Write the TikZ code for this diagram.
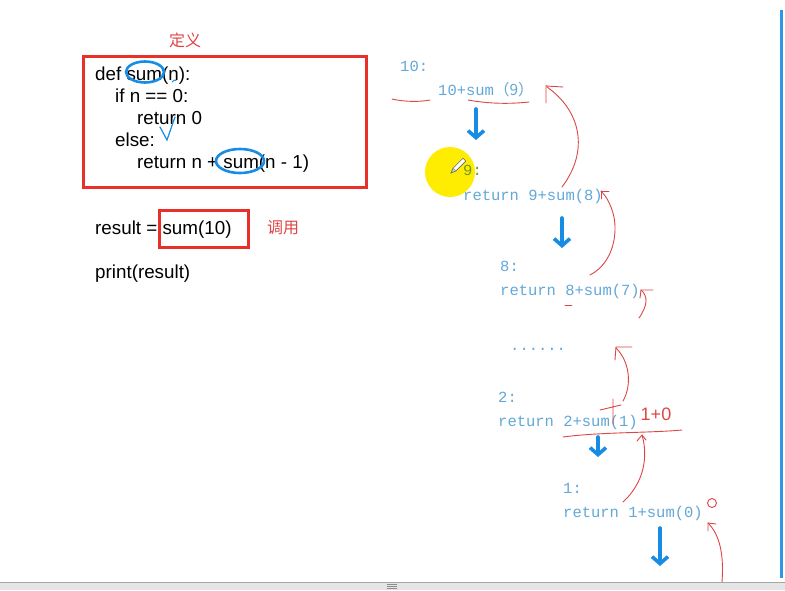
\documentclass[tikz,border=0pt]{standalone}
\usepackage{fontspec}
\setmainfont{Liberation Sans}
\newfontfamily\monofont{Liberation Mono}
\newfontfamily\cjk{Noto Sans CJK SC}
\usetikzlibrary{arrows.meta}
\definecolor{penred}{RGB}{222,70,70}
\definecolor{boxred}{RGB}{232,48,40}
\definecolor{penblue}{RGB}{22,140,228}
\definecolor{traceblue}{RGB}{98,168,216}
\definecolor{nineolive}{RGB}{118,150,30}
\tikzset{
  code/.style={anchor=base west, inner sep=0, font=\fontsize{18.8}{22}\selectfont},
  trace/.style={anchor=base west, inner sep=0, text=traceblue, font=\monofont\fontsize{15.5}{18}\selectfont},
  cnnote/.style={inner sep=0, text=penred, font=\cjk\fontsize{16}{18}\selectfont},
  pen/.style={penred, line width=0.9pt, line cap=round, line join=round},
  bluepen/.style={penblue, line width=2.6pt, line cap=round},
  downarrow/.style={penblue, line width=3.6pt, line cap=round, -{Straight Barb[length=7pt,width=16pt,line width=3.6pt]}}
}
\begin{document}
\begin{tikzpicture}[x=1pt,y=-1pt]
\useasboundingbox (0,0) rectangle (785,590);
\fill[white] (0,0) rectangle (785,590);
% window edges
\fill[penblue!90] (779.5,10) rectangle (783,578);
\fill[black!10] (0,582) rectangle (785,590);
\draw[black!35] (0,582) -- (785,582);
\draw[black!45, line width=0.6pt] (387,584.5) -- (397,584.5) (387,586.5) -- (397,586.5) (387,588.5) -- (397,588.5);

% code on the left
\node[cnnote] (defnote) at (185,40) {定义};
\node[code] (defline) at (95,80) {def sum(n):};
\node[code] (ifline) at (115,102) {if n == 0:};
\node[code] (ret0) at (137,124) {return 0};
\node[code] (elseline) at (115,146) {else:};
\node[code] (recline) at (137,168) {return n + sum(n - 1)};
\draw[boxred, line width=3pt] (83,56) rectangle (366,187);
\draw[bluepen] (145,72) ellipse (19 and 10.5);
\draw[bluepen] (240,161) ellipse (24 and 12);
\draw[penblue, line width=1.2pt, line cap=round] (160,127) -- (167,140) -- (175,117);
\draw[penblue, line width=1pt] (172,82) arc (200:300:3);

\node[code] (resline) at (95,234) {result = sum(10)};
\draw[boxred, line width=3pt] (159,210) rectangle (248,247);
\node[cnnote] (callnote) at (283,228) {调用};
\node[code] (printline) at (95,278) {print(result)};

% trace of the calls
\node[trace] (lbl10) at (400,71) {10:};
\node[trace] (call10) at (438,95) {10+sum{\cjk （9）}};
\fill[yellow!95!orange] (450,172) circle (25);
\node[trace, text=nineolive] (lbl9) at (463,175) {9:};
\begin{scope}[shift={(458,166)}, rotate=-45]
  \draw[black!60, fill=white, line width=0.6pt] (-2,-9) rectangle (2,5);
  \draw[black!60, fill=black!20, line width=0.6pt] (-2,5) -- (0,10) -- (2,5);
\end{scope}
\node[trace] (ret9) at (463,200) {return 9+sum(8)};
\node[trace] (lbl8) at (500,271) {8:};
\node[trace] (ret8) at (500,295) {return 8+sum(7)};
\node[trace] (dots) at (510,350) {......};
\node[trace] (lbl2) at (498,402) {2:};
\node[trace] (ret2) at (498,426) {return 2+sum(1)};
\node[trace] (lbl1) at (563,493) {1:};
\node[trace] (ret1) at (563,517) {return 1+sum(0)};

\draw[downarrow] (476,109) -- (476,140);
\draw[downarrow] (562,218) -- (562,248);
\draw[downarrow] (598,437) -- (598,457);
\draw[downarrow] (660,528) -- (660,566);

% red pen marks
\draw[pen] (392,99) .. controls (405,102) and (420,102) .. (430,100);
\draw[pen] (468,100) .. controls (490,104) and (510,104) .. (529,102);
\draw[pen] (562,187) .. controls (590,150) and (580,110) .. (547,87);
\draw[pen] (546,85) -- (546,103) (546,86) -- (563,87);
\draw[pen] (590,275) .. controls (615,262) and (618,230) .. (613,213) .. controls (610,203) and (606,196) .. (601,191);
\draw[pen] (601,191) -- (601,199) (601,191) -- (609,191);
\draw[pen] (639,318) .. controls (648,305) and (648,296) .. (641,290);
\draw[pen] (641,290) -- (640,298) (641,290) -- (653,290);
\draw[pen] (565,305) -- (572,305);
\draw[pen] (623,401) .. controls (632,385) and (630,362) .. (616,348);
\draw[pen] (616,347) -- (615,360) (616,347) -- (632,347);
\draw[pen] (600,410) -- (621,405) (613,399) -- (613,424);
\node[inner sep=0, text=penred, font=\fontsize{18}{18}\selectfont] (sumnote) at (656,414) {1+0};
\draw[pen] (563,437) .. controls (600,432) and (650,433) .. (682,430);
\draw[pen] (623,502) .. controls (645,482) and (648,455) .. (642,435);
\draw[pen] (637,441) -- (642,435) -- (646,440);
\draw[pen] (712,503) circle (4.5);
\draw[pen] (722,582) .. controls (724,555) and (720,535) .. (708,523);
\draw[pen] (708,523) -- (708,531) (708,523) -- (716,524);
\end{tikzpicture}
\end{document}
